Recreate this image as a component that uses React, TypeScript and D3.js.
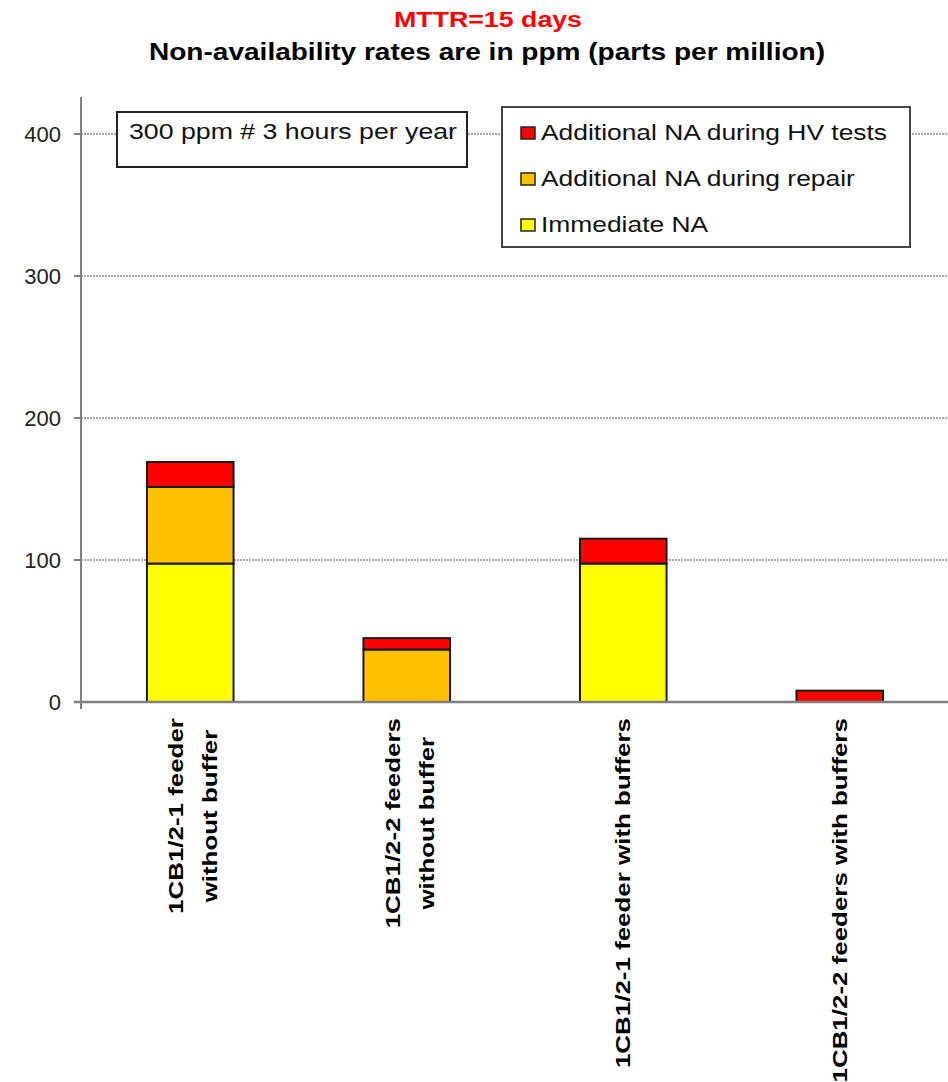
import React from "react";
import * as d3 from "d3";

const categories = ["cat1", "cat2", "cat3", "cat4"];
const labelLines: string[][] = [
  ["1CB1/2-1 feeder", "without buffer"],
  ["1CB1/2-2 feeders", "without buffer"],
  ["1CB1/2-1 feeder with buffers"],
  ["1CB1/2-2 feeders with buffers"],
];
const immediateNA = [97.5, 0, 97.5, 0];
const repairNA = [54, 37, 0, 0];
const hvTestNA = [17.5, 8, 17.5, 8];
const seriesNames = ["Immediate NA", "Additional NA during repair", "Additional NA during HV tests"];
const seriesColors = ["#ffff00", "#ffc000", "#ff0000"];
const yTicks = [0, 100, 200, 300, 400];
const titleLine1 = "MTTR=15 days";
const titleLine2 = "Non-availability rates are in ppm (parts per million)";
const annotation = "300 ppm # 3 hours per year";

const FONT = "'Liberation Sans', Arial, Helvetica, sans-serif";

function measure(text: string, font: string): number {
  if (typeof document === "undefined") return text.length * 10;
  const c = document.createElement("canvas");
  const ctx = c.getContext("2d")!;
  ctx.font = font;
  return ctx.measureText(text).width;
}

export default function App() {
  const W = 948, H = 1082;
  const x0 = 82, x1 = 948, yBase = 702, yTop = 97;
  const x = d3.scaleBand<string>().domain(categories).range([x0, x1]).paddingInner(0.6).paddingOuter(0.3);
  const y = d3.scaleLinear().domain([0, 400]).range([yBase, 134]);

  const rows = categories.map((c, i) => ({ cat: c, s0: immediateNA[i], s1: repairNA[i], s2: hvTestNA[i] }));
  const stacked = d3.stack<any>().keys(["s0", "s1", "s2"])(rows);

  const sx = 1.2;
  const lsx = 1.235;
  const labelFontSize = 21;
  const labelFont = `bold ${labelFontSize}px ${FONT}`;

  return (
    <svg width={W} height={H} style={{ position: "absolute", left: 0, top: 0, background: "#fff" }} fontFamily={FONT}>
      <rect x={0} y={0} width={W} height={H} fill="#fff" />
      {/* titles */}
      <text x={488} y={27} textAnchor="middle" fill="#ff0000" fontWeight="bold" fontSize={22} textLength={188} lengthAdjust="spacingAndGlyphs">{titleLine1}</text>
      <text x={487} y={60} textAnchor="middle" fill="#000" fontWeight="bold" fontSize={23} textLength={676} lengthAdjust="spacingAndGlyphs">{titleLine2}</text>

      {/* gridlines */}
      {yTicks.filter(t => t > 0).map(t => (
        <line key={t} x1={x0 - 1} x2={x1} y1={y(t)} y2={y(t)} stroke="#8c8c8c" strokeWidth={1.6} strokeDasharray="2,1" />
      ))}

      {/* y axis */}
      <line x1={81} x2={81} y1={yTop} y2={709} stroke="#808080" strokeWidth={2} />
      {yTicks.map(t => (
        <g key={t}>
          <line x1={74} x2={81} y1={y(t)} y2={y(t)} stroke="#808080" strokeWidth={2} />
          <text x={61} y={y(t) + 8} textAnchor="end" fontSize={22} fill="#222">{t}</text>
        </g>
      ))}

      {/* bars */}
      {stacked.map((layer, li) => layer.map((d, i) => {
        const h = y(d[0]) - y(d[1]);
        if (h <= 0) return null;
        return (
          <rect key={`${li}-${i}`} x={x(categories[i])!} width={x.bandwidth()} y={y(d[1])} height={h}
            fill={seriesColors[li]} stroke="#1a1a1a" strokeWidth={2} />
        );
      }))}

      {/* x axis */}
      <line x1={74} x2={x1} y1={yBase} y2={yBase} stroke="#808080" strokeWidth={2.5} />

      {/* x labels */}
      {labelLines.map((lines, i) => {
        const c = x(categories[i])! + x.bandwidth() / 2;
        const lens = lines.map(l => measure(l, labelFont));
        const maxLen = Math.max(...lens);
        const baselines = lines.length === 2 ? [c - 7, c + 27] : [c + 7];
        return lines.map((l, j) => (
          <g key={`${i}-${j}`} transform={`translate(${baselines[j]},718) rotate(-90) scale(${lsx},1)`}>
            <text x={-maxLen / 2} y={0} textAnchor="middle" fontWeight="bold" fontSize={labelFontSize} fill="#000">{l}</text>
          </g>
        ));
      })}

      {/* annotation box */}
      <rect x={117} y={112} width={350} height={55} fill="#fff" stroke="#222" strokeWidth={2} />
      <g transform={`translate(129,139) scale(${sx},1)`}>
        <text x={0} y={0} fontSize={22} fill="#111" textLength={328 / sx} lengthAdjust="spacingAndGlyphs">{annotation}</text>
      </g>

      {/* legend */}
      <rect x={502} y={107} width={408} height={140} fill="#fff" stroke="#444" strokeWidth={2} />
      {[2, 1, 0].map((si, k) => {
        const by = 140 + k * 46;
        return (
          <g key={si}>
            <rect x={521} y={by - 13} width={14} height={12} fill={seriesColors[si]} stroke="#222" strokeWidth={1.5} />
            <g transform={`translate(541,${by}) scale(${sx},1)`}>
              <text x={0} y={0} fontSize={22} fill="#111">{seriesNames[si]}</text>
            </g>
          </g>
        );
      })}
    </svg>
  );
}
